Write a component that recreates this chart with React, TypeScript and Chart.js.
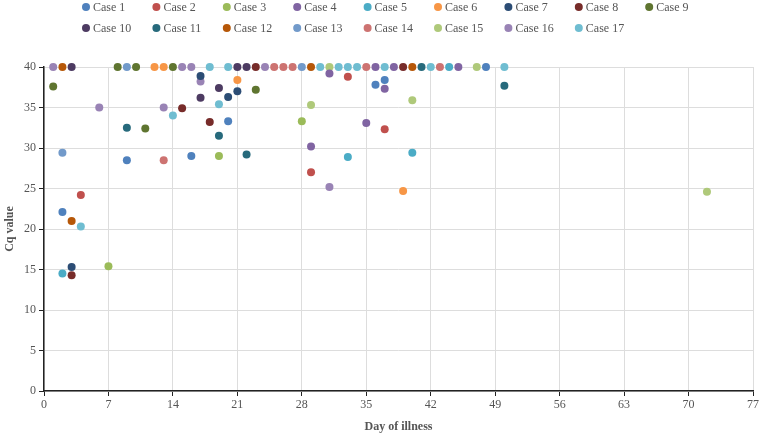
import React, { useEffect, useRef } from "react";
import { Chart, registerables } from "chart.js";

Chart.register(...registerables);

// [day of illness, Cq value]
const case1 = [[2, 22.1], [9, 28.5], [16, 29], [20, 33.3], [36, 37.8], [37, 38.4], [48, 40]];
const case2 = [[4, 24.2], [29, 27], [33, 38.8], [37, 32.3]];
const case3 = [[7, 15.4], [19, 29], [28, 33.3]];
const case4 = [[29, 30.2], [31, 39.2], [35, 33.1], [37, 37.3], [36, 40], [38, 40], [45, 40]];
const case5 = [[2, 14.5], [33, 28.9], [40, 29.4], [44, 40]];
const case6 = [[12, 40], [13, 40], [21, 38.4], [39, 24.7]];
const case7 = [[3, 15.3], [17, 38.9], [20, 36.3], [21, 37]];
const case8 = [[3, 14.3], [15, 34.9], [18, 33.2], [23, 40], [39, 40]];
const case9 = [[1, 37.6], [8, 40], [10, 40], [11, 32.4], [14, 40], [23, 37.2]];
const case10 = [[3, 40], [17, 36.2], [19, 37.4], [21, 40], [22, 40]];
const case11 = [[9, 32.5], [19, 31.5], [22, 29.2], [41, 40], [50, 37.7]];
const case12 = [[2, 40], [3, 21], [29, 40], [40, 40]];
const case13 = [[2, 29.4], [9, 40], [28, 40]];
const case14 = [[13, 28.5], [25, 40], [26, 40], [27, 40], [35, 40], [43, 40]];
const case15 = [[29, 35.3], [31, 40], [40, 35.9], [47, 40], [72, 24.6]];
const case16 = [[1, 40], [6, 35], [13, 35], [15, 40], [16, 40], [17, 38.2], [24, 40], [31, 25.2]];
const case17 = [[4, 20.3], [14, 34], [18, 40], [19, 35.4], [20, 40], [30, 40], [32, 40], [33, 40], [34, 40], [37, 40], [42, 40], [50, 40]];

const caseData = [case1, case2, case3, case4, case5, case6, case7, case8, case9, case10, case11, case12, case13, case14, case15, case16, case17];
const caseNames = ["Case 1", "Case 2", "Case 3", "Case 4", "Case 5", "Case 6", "Case 7", "Case 8", "Case 9", "Case 10", "Case 11", "Case 12", "Case 13", "Case 14", "Case 15", "Case 16", "Case 17"];
const caseColors = ["#4F81BD", "#C0504D", "#9BBB59", "#8064A2", "#4BACC6", "#F79646", "#2C4D75", "#772C2A", "#5F7530", "#4D3B62", "#276A7C", "#B65708", "#729ACA", "#CD7371", "#AFC97A", "#9983B5", "#6FBDD1"];

const xTicks = [0, 7, 14, 21, 28, 35, 42, 49, 56, 63, 70, 77];
const yTicks = [0, 5, 10, 15, 20, 25, 30, 35, 40];

const FONT = "'Liberation Serif', 'Times New Roman', serif";

const legendPlugin = {
  id: "fixedLegend",
  afterDraw(chart: any) {
    const ctx = chart.ctx;
    ctx.save();
    ctx.font = `12px ${FONT}`;
    ctx.textBaseline = "middle";
    ctx.textAlign = "left";
    chart.data.datasets.forEach((ds: any, i: number) => {
      const row = i < 9 ? 0 : 1;
      const col = i < 9 ? i : i - 9;
      const cx = 86 + col * 70.4;
      const cy = row === 0 ? 7 : 28;
      ctx.beginPath();
      ctx.fillStyle = ds.backgroundColor;
      ctx.arc(cx, cy, 4, 0, Math.PI * 2);
      ctx.fill();
      ctx.fillStyle = "#555";
      ctx.fillText(ds.label, cx + 7, cy + 1);
    });
    ctx.restore();
  },
};

export default function App() {
  const ref = useRef<HTMLCanvasElement>(null);
  useEffect(() => {
    if (!ref.current) return;
    const chart = new Chart(ref.current, {
      type: "scatter",
      data: {
        datasets: caseData.map((pts, i) => ({
          label: caseNames[i],
          data: pts.map(([x, y]) => ({ x, y })),
          backgroundColor: caseColors[i],
          borderColor: caseColors[i],
          pointRadius: 4,
          pointBorderWidth: 0,
          pointHoverRadius: 4,
          clip: false,
        })),
      },
      options: {
        animation: false,
        responsive: true,
        maintainAspectRatio: false,
        layout: { padding: { top: 67, right: 6, left: 0, bottom: 0 } },
        plugins: {
          legend: { display: false },
          tooltip: { enabled: false },
        },
        scales: {
          x: {
            type: "linear",
            min: 0,
            max: 77,
            afterBuildTicks: (s: any) => {
              s.ticks = xTicks.map((v) => ({ value: v }));
            },
            afterFit: (s: any) => {
              s.height = 44;
            },
            ticks: { color: "#555", font: { family: FONT, size: 12 }, padding: 2, autoSkip: false, maxRotation: 0 },
            grid: { color: "#dddddd", tickColor: "#222", tickLength: 5, lineWidth: 1 },
            border: { color: "#222", width: 1.5 },
            title: { display: true, text: "Day of illness", color: "#555", font: { family: FONT, size: 12, weight: "bold" }, padding: { top: 4, bottom: 1 } },
          },
          y: {
            type: "linear",
            min: 0,
            max: 40,
            afterBuildTicks: (s: any) => {
              s.ticks = yTicks.map((v) => ({ value: v }));
            },
            afterFit: (s: any) => {
              s.width = 44;
            },
            ticks: { color: "#555", font: { family: FONT, size: 12 }, padding: 3 },
            grid: { color: "#dddddd", tickColor: "#222", tickLength: 5, lineWidth: 1 },
            border: { color: "#222", width: 1.5 },
            title: { display: true, text: "Cq value", color: "#555", font: { family: FONT, size: 12, weight: "bold" }, padding: { top: 3, bottom: 3 } },
          },
        },
      },
      plugins: [legendPlugin],
    });
    return () => chart.destroy();
  }, []);
  return (
    <div style={{ position: "fixed", left: 0, top: 0, width: 761, height: 435 }}>
      <canvas ref={ref} />
    </div>
  );
}
